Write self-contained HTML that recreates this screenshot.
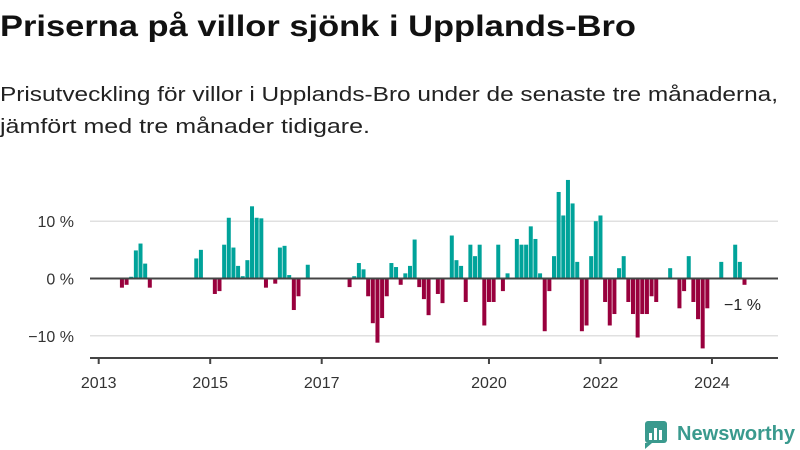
<!DOCTYPE html>
<html><head><meta charset="utf-8">
<style>
html,body{margin:0;padding:0;background:#fff;width:800px;height:450px;overflow:hidden}
svg{display:block;font-family:"Liberation Sans","DejaVu Sans",sans-serif}
</style></head>
<body>
<svg id="chart" width="800" height="450" viewBox="0 0 800 450">
  <text x="0" y="36" font-size="30" font-weight="bold" fill="#111" textLength="636" lengthAdjust="spacingAndGlyphs">Priserna på villor sjönk i Upplands-Bro</text>
  <text x="0" y="101" font-size="20" fill="#222" textLength="778" lengthAdjust="spacingAndGlyphs">Prisutveckling för villor i Upplands-Bro under de senaste tre månaderna,</text>
  <text x="0" y="133" font-size="20" fill="#222" textLength="370" lengthAdjust="spacingAndGlyphs">jämfört med tre månader tidigare.</text>
  <g id="grid"></g>
  <g id="bars"></g>
  <g id="axes"></g>
  <text x="724" y="310" font-size="16" fill="#222">−1 %</text>
  <g>
    <rect x="645" y="421" width="22" height="22" rx="3" fill="#3a9a8e"/>
    <polygon points="645,443 645,449 652,443" fill="#3a9a8e"/>
    <rect x="649" y="433" width="3" height="7" fill="#fff"/>
    <rect x="654" y="428" width="3" height="12" fill="#fff"/>
    <rect x="659" y="430" width="3" height="10" fill="#fff"/>
    <text x="677" y="440" font-size="20" font-weight="bold" fill="#3a9a8e" textLength="118" lengthAdjust="spacingAndGlyphs">Newsworthy</text>
  </g>
</svg>
<script>
// month index from Jan 2013
const monthIdx = [4,5,6,7,8,9,10,20,21,24,25,26,27,28,29,30,31,32,33,34,35,37,38,39,40,41,42,44,
53,54,55,56,57,58,59,60,61,62,63,64,65,66,67,68,69,70,72,73,75,76,77,78,79,80,81,82,83,84,85,86,87,89,90,91,92,93,94,95,96,97,98,
99,100,101,102,103,104,105,106,107,108,109,110,111,112,113,114,115,116,117,118,119,122,124,125,126,127,128,129,130,133,136,137,138];
const values = [-1.6,-1.1,0.3,4.9,6.1,2.6,-1.6,3.5,5.0,-2.7,-2.2,5.9,10.6,5.4,2.2,0.4,3.2,12.6,10.6,10.5,-1.6,-0.9,5.4,5.7,0.6,-5.5,-3.1,2.4,
-1.5,0.4,2.7,1.6,-3.1,-7.8,-11.2,-6.9,-3.1,2.7,2.0,-1.1,0.9,2.2,6.8,-1.5,-3.6,-6.4,-2.7,-4.3,7.5,3.2,2.2,-4.1,5.9,3.9,5.9,-8.2,-4.1,-4.1,5.9,-2.2,0.9,6.9,5.9,5.9,9.1,6.9,0.9,-9.2,-2.2,3.9,15.1,
11.0,17.2,13.1,2.9,-9.2,-8.2,3.9,10.0,11.0,-4.1,-8.2,-6.2,1.8,3.9,-4.1,-6.2,-10.3,-6.2,-6.2,-3.1,-4.1,1.8,-5.2,-2.2,3.9,-4.1,-7.1,-12.2,-5.2,2.9,5.9,2.9,-1.1];
const yTicks = [10,0,-10];
const yTickLabels = ["10 %","0 %","−10 %"];
const xTickYears = [2013,2015,2017,2020,2022,2024];

const NS="http://www.w3.org/2000/svg";
const x0=98.7, perMonth=4.646;
const xScale = m => x0 + m*perMonth;
const yScale = v => 278.5 - v*5.73;
function mk(tag, attrs, parent){const e=document.createElementNS(NS,tag);for(const k in attrs)e.setAttribute(k,attrs[k]);parent.appendChild(e);return e;}
const grid=document.getElementById('grid'), bars=document.getElementById('bars'), axes=document.getElementById('axes');
yTicks.forEach((t,i)=>{
  if(t!==0){const l=mk('line',{x1:90,x2:778,y1:yScale(t),y2:yScale(t),stroke:'#e0e0e0','stroke-width':1.5},grid);
  
  }
  const tx=mk('text',{x:74,y:yScale(t)+6,'font-size':16,fill:'#333','text-anchor':'end'},axes);
  tx.textContent=yTickLabels[i];
  
  
});
values.forEach((v,i)=>{
  const cx=xScale(monthIdx[i]+1);
  const y=yScale(Math.max(v,0)), h=Math.abs(yScale(v)-yScale(0));
  const r=mk('rect',{x:cx-2,y:y,width:4,height:h,fill:v>=0?'#00a39a':'#99003d'},bars);
  
  
});
const zl=mk('line',{x1:90,x2:778,y1:yScale(0),y2:yScale(0),stroke:'#444','stroke-width':2},axes);


const al=mk('line',{x1:90,x2:778,y1:358,y2:358,stroke:'#444','stroke-width':2},axes);


xTickYears.forEach(yr=>{
  const x=xScale((yr-2013)*12);
  const t=mk('line',{x1:x,x2:x,y1:358,y2:364,stroke:'#444','stroke-width':2},axes);
  
  
  const tx=mk('text',{x:x,y:388,'font-size':16,fill:'#333','text-anchor':'middle'},axes);
  tx.textContent=yr;
  
  
});
</script>
</body></html>
